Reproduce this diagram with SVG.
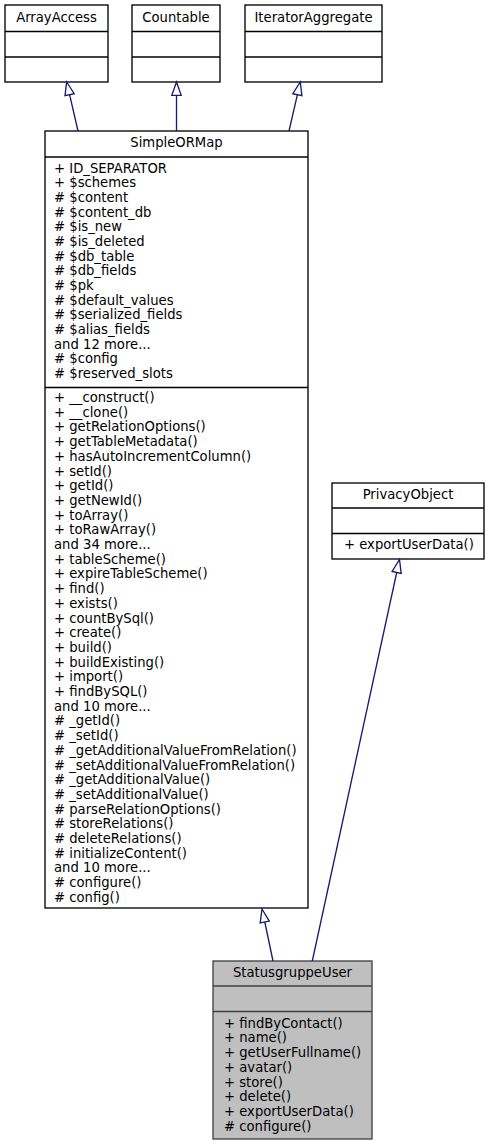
<svg xmlns="http://www.w3.org/2000/svg" width="489" height="1145" viewBox="0 0 489 1145">
<style>
.box{fill:#ffffff;stroke:#000000;stroke-width:1.33}
.cur{fill:#bfbfbf;stroke:#404040;stroke-width:1.33}
.div{stroke:#000000;stroke-width:1.33;fill:none}
.divc{stroke:#404040;stroke-width:1.33;fill:none}
text{font-family:"DejaVu Sans","Noto Sans",sans-serif;font-size:13.2px;fill:#000000}
.t{text-anchor:middle}
.edge{stroke:#191970;stroke-width:1.33;fill:none}
.head{stroke:#191970;stroke-width:1.33;fill:none}
</style>
<rect width="489" height="1145" fill="#ffffff"/>
<g id="node-ArrayAccess">
<rect class="box" x="5" y="5" width="103" height="77"/>
<line class="div" x1="5" y1="31.5" x2="108" y2="31.5"/>
<line class="div" x1="5" y1="57" x2="108" y2="57"/>
<text class="t" x="56.5" y="22">ArrayAccess</text>
</g>
<g id="node-Countable">
<rect class="box" x="132" y="5" width="88" height="77"/>
<line class="div" x1="132" y1="31.5" x2="220" y2="31.5"/>
<line class="div" x1="132" y1="57" x2="220" y2="57"/>
<text class="t" x="176" y="22">Countable</text>
</g>
<g id="node-IteratorAggregate">
<rect class="box" x="245" y="5" width="137" height="77"/>
<line class="div" x1="245" y1="31.5" x2="382" y2="31.5"/>
<line class="div" x1="245" y1="57" x2="382" y2="57"/>
<text class="t" x="313.5" y="22">IteratorAggregate</text>
</g>
<g id="node-SimpleORMap">
<rect class="box" x="45" y="131" width="263" height="777"/>
<line class="div" x1="45" y1="157" x2="308" y2="157"/>
<line class="div" x1="45" y1="387.5" x2="308" y2="387.5"/>
<text class="t" x="176.5" y="147">SimpleORMap</text>
<text x="54" y="172.5">
<tspan x="54" dy="0">+ ID_SEPARATOR</tspan>
<tspan x="54" dy="14.68">+ $schemes</tspan>
<tspan x="54" dy="14.68"># $content</tspan>
<tspan x="54" dy="14.68"># $content_db</tspan>
<tspan x="54" dy="14.68"># $is_new</tspan>
<tspan x="54" dy="14.68"># $is_deleted</tspan>
<tspan x="54" dy="14.68"># $db_table</tspan>
<tspan x="54" dy="14.68"># $db_fields</tspan>
<tspan x="54" dy="14.68"># $pk</tspan>
<tspan x="54" dy="14.68"># $default_values</tspan>
<tspan x="54" dy="14.68"># $serialized_fields</tspan>
<tspan x="54" dy="14.68"># $alias_fields</tspan>
<tspan x="54" dy="14.68">and 12 more...</tspan>
<tspan x="54" dy="14.68"># $config</tspan>
<tspan x="54" dy="14.68"># $reserved_slots</tspan>
</text>
<text x="54" y="402">
<tspan x="54" dy="0">+ __construct()</tspan>
<tspan x="54" dy="14.7">+ __clone()</tspan>
<tspan x="54" dy="14.7">+ getRelationOptions()</tspan>
<tspan x="54" dy="14.7">+ getTableMetadata()</tspan>
<tspan x="54" dy="14.7">+ hasAutoIncrementColumn()</tspan>
<tspan x="54" dy="14.7">+ setId()</tspan>
<tspan x="54" dy="14.7">+ getId()</tspan>
<tspan x="54" dy="14.7">+ getNewId()</tspan>
<tspan x="54" dy="14.7">+ toArray()</tspan>
<tspan x="54" dy="14.7">+ toRawArray()</tspan>
<tspan x="54" dy="14.7">and 34 more...</tspan>
<tspan x="54" dy="14.7">+ tableScheme()</tspan>
<tspan x="54" dy="14.7">+ expireTableScheme()</tspan>
<tspan x="54" dy="14.7">+ find()</tspan>
<tspan x="54" dy="14.7">+ exists()</tspan>
<tspan x="54" dy="14.7">+ countBySql()</tspan>
<tspan x="54" dy="14.7">+ create()</tspan>
<tspan x="54" dy="14.7">+ build()</tspan>
<tspan x="54" dy="14.7">+ buildExisting()</tspan>
<tspan x="54" dy="14.7">+ import()</tspan>
<tspan x="54" dy="14.7">+ findBySQL()</tspan>
<tspan x="54" dy="14.7">and 10 more...</tspan>
<tspan x="54" dy="14.7"># _getId()</tspan>
<tspan x="54" dy="14.7"># _setId()</tspan>
<tspan x="54" dy="14.7"># _getAdditionalValueFromRelation()</tspan>
<tspan x="54" dy="14.7"># _setAdditionalValueFromRelation()</tspan>
<tspan x="54" dy="14.7"># _getAdditionalValue()</tspan>
<tspan x="54" dy="14.7"># _setAdditionalValue()</tspan>
<tspan x="54" dy="14.7"># parseRelationOptions()</tspan>
<tspan x="54" dy="14.7"># storeRelations()</tspan>
<tspan x="54" dy="14.7"># deleteRelations()</tspan>
<tspan x="54" dy="14.7"># initializeContent()</tspan>
<tspan x="54" dy="14.7">and 10 more...</tspan>
<tspan x="54" dy="14.7"># configure()</tspan>
<tspan x="54" dy="14.7"># config()</tspan>
</text>
</g>
<g id="node-PrivacyObject">
<rect class="box" x="332" y="483" width="152" height="76"/>
<line class="div" x1="332" y1="508" x2="484" y2="508"/>
<line class="div" x1="332" y1="533.5" x2="484" y2="533.5"/>
<text class="t" x="408" y="498.5">PrivacyObject</text>
<text x="344" y="549">+ exportUserData()</text>
</g>
<g id="node-StatusgruppeUser">
<rect class="cur" x="213" y="961" width="159" height="178"/>
<line class="divc" x1="213" y1="986" x2="372" y2="986"/>
<line class="divc" x1="213" y1="1011.5" x2="372" y2="1011.5"/>
<text class="t" x="292.5" y="977">StatusgruppeUser</text>
<text x="224" y="1027.7">
<tspan x="224" dy="0">+ findByContact()</tspan>
<tspan x="224" dy="14.7">+ name()</tspan>
<tspan x="224" dy="14.7">+ getUserFullname()</tspan>
<tspan x="224" dy="14.7">+ avatar()</tspan>
<tspan x="224" dy="14.7">+ store()</tspan>
<tspan x="224" dy="14.7">+ delete()</tspan>
<tspan x="224" dy="14.7">+ exportUserData()</tspan>
<tspan x="224" dy="14.7"># configure()</tspan>
</text>
</g>
<g id="connectors">
<line class="edge" x1="78" y1="131" x2="69.6" y2="94.7"/>
<polygon class="head" points="66.7,82 74.2,93.7 65,95.7"/>
<line class="edge" x1="176.5" y1="131" x2="176.5" y2="95.3"/>
<polygon class="head" points="176.5,82 181.2,95.3 171.8,95.3"/>
<line class="edge" x1="289" y1="131" x2="297.4" y2="94.7"/>
<polygon class="head" points="300.3,82 301.9,95.7 292.8,93.7"/>
<line class="edge" x1="273" y1="961" x2="264.8" y2="922"/>
<polygon class="head" points="262,909 269.3,921.1 260.2,923"/>
<line class="edge" x1="312.3" y1="961" x2="396.7" y2="572.5"/>
<polygon class="head" points="399.5,559.5 401.2,573.5 392.1,571.5"/>
</g>
</svg>
